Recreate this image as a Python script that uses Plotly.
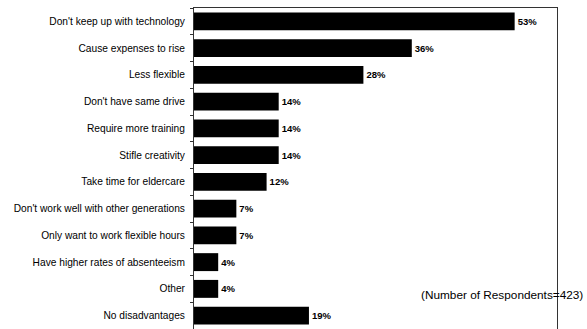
import plotly.graph_objects as go

# Survey responses: perceived disadvantages of older workers
categories = [
    "Don't keep up with technology",
    "Cause expenses to rise",
    "Less flexible",
    "Don't have same drive",
    "Require more training",
    "Stifle creativity",
    "Take time for eldercare",
    "Don't work well with other generations",
    "Only want to work flexible hours",
    "Have higher rates of absenteeism",
    "Other",
    "No disadvantages",
]
percentages = [53, 36, 28, 14, 14, 14, 12, 7, 7, 4, 4, 19]
respondents = 423

FONT = "Liberation Sans, Arial, sans-serif"

fig = go.Figure(
    go.Bar(
        x=percentages,
        y=categories,
        orientation="h",
        marker=dict(color="black", line=dict(width=0)),
        text=[f"<b>{v}%</b>" for v in percentages],
        textposition="outside",
        textfont=dict(family=FONT, size=9.5, color="black"),
        constraintext="none",
        cliponaxis=False,
        width=0.67,
    )
)

fig.add_annotation(
    text=f"(Number of Respondents={respondents})",
    xref="paper", yref="paper",
    x=1.0, y=0.105,
    xanchor="center", yanchor="middle",
    xshift=-55,
    showarrow=False,
    font=dict(family=FONT, size=11.8, color="black"),
)

fig.update_layout(
    width=587,
    height=329,
    margin=dict(l=194, r=30, t=8, b=0),
    paper_bgcolor="white",
    plot_bgcolor="white",
    showlegend=False,
    font=dict(family=FONT, size=10.2, color="black"),
)

fig.update_xaxes(
    range=[0, 60],
    showticklabels=False,
    showgrid=False,
    zeroline=False,
    ticks="",
    showline=True,
    linecolor="#333333",
    linewidth=1,
    mirror=True,
)

fig.update_yaxes(
    autorange="reversed",
    showgrid=False,
    ticks="outside",
    ticklen=3,
    tickcolor="#333333",
    tickson="boundaries",
    ticklabelstandoff=6,
    showline=True,
    linecolor="#333333",
    linewidth=1,
    mirror=True,
)

fig.write_html("out.html")
